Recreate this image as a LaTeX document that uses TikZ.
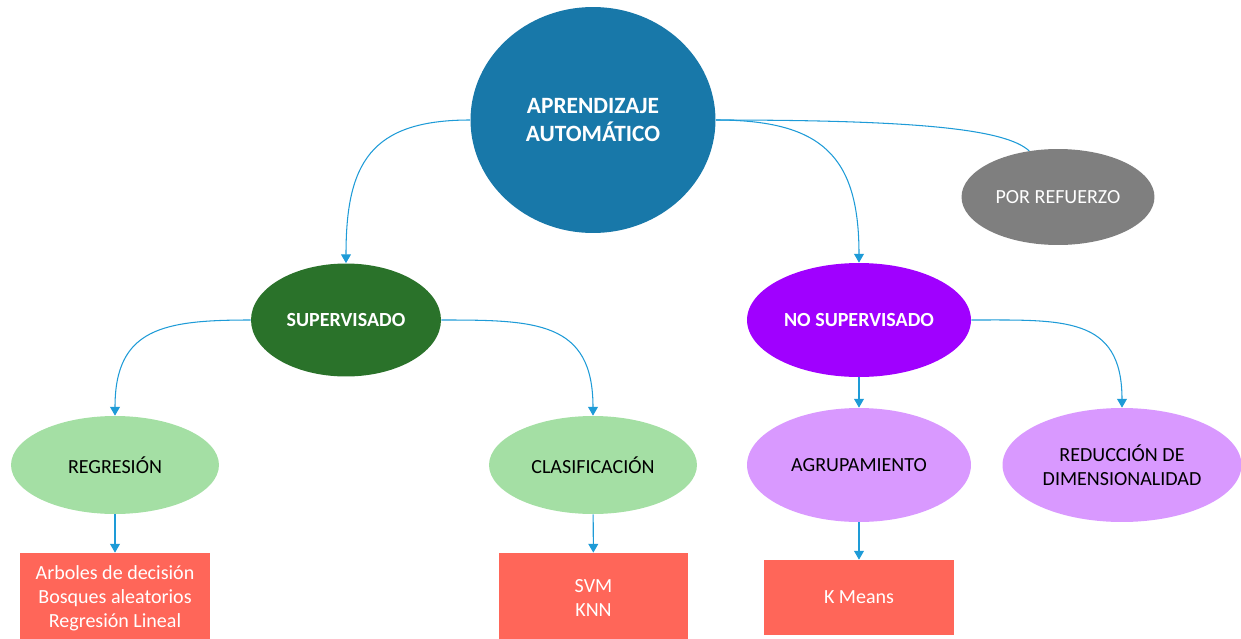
\documentclass[tikz,border=0pt]{standalone}
\usepackage{fontspec}
\setmainfont{Carlito}
\usetikzlibrary{positioning, arrows.meta, shapes.geometric}
\definecolor{mainblue}{HTML}{1878A9}
\definecolor{supgreen}{HTML}{2A722A}
\definecolor{nosuppurple}{HTML}{A000FF}
\definecolor{refgray}{HTML}{7F7F7F}
\definecolor{leafgreen}{HTML}{A4DFA4}
\definecolor{leaflilac}{HTML}{D999FF}
\definecolor{algred}{HTML}{FF6659}
\definecolor{linkblue}{HTML}{1E9BD7}

\begin{document}
\begin{tikzpicture}[x=0.02cm, y=-0.02cm]
		\tikzstyle{oval} = [shape=ellipse, inner sep=0, text centered, align=center, font=\fontsize{11.4}{13.7}\selectfont]
		\tikzstyle{bigoval} = [oval, fill=mainblue, text=white, minimum width=4.9cm, minimum height=4.52cm, font=\fontsize{13.3}{15.9}\selectfont\bfseries]
		\tikzstyle{typeoval} = [oval, text=white, font=\fontsize{11.4}{13.7}\selectfont\bfseries]
		\tikzstyle{leafoval} = [oval, text=black, minimum height=1.96cm]
		\tikzstyle{algbox} = [shape=rectangle, fill=algred, text=white, inner sep=0, minimum width=3.8cm, align=center, font=\fontsize{11.4}{13.7}\selectfont]
		\tikzstyle{link} = [draw=linkblue, line width=0.6pt]
		\tikzstyle{arrow} = [link, -{Triangle[width=5.6pt,length=5pt,color=linkblue]}]
		\useasboundingbox (0,0) rectangle (1241,639);
		\node [bigoval] (v1) at (593,120) {APRENDIZAJE\\AUTOMÁTICO};
		\node [typeoval, fill=supgreen, minimum width=3.8cm, minimum height=2.26cm] (v2) at (346,320) {SUPERVISADO};
		\node [typeoval, fill=nosuppurple, minimum width=4.48cm, minimum height=2.28cm] (v3) at (859,320) {NO SUPERVISADO};
		\node [oval, fill=refgray, text=white, minimum width=3.86cm, minimum height=1.92cm] (v4) at (1058,197) {POR REFUERZO};
		\node [leafoval, fill=leafgreen, minimum width=4.16cm] (v5) at (115,465) {REGRESIÓN};
		\node [leafoval, fill=leafgreen, minimum width=4.16cm] (v6) at (593,465) {CLASIFICACIÓN};
		\node [leafoval, fill=leaflilac, minimum width=4.48cm, minimum height=2.28cm] (v7) at (859,465) {AGRUPAMIENTO};
		\node [leafoval, fill=leaflilac, minimum width=4.78cm, minimum height=2.28cm] (v8) at (1122,465) {REDUCCIÓN DE\\DIMENSIONALIDAD};
		\node [algbox, minimum height=1.8cm] (v9) at (115,598) {Arboles de decisión\\Bosques aleatorios\\Regresión Lineal};
		\node [algbox, minimum height=1.8cm] (v10) at (593.5,598) {SVM\\KNN};
		\node [algbox, minimum height=1.5cm] (v11) at (859,597.5) {K Means};
		\draw [arrow] (v1.west) to[out=180,in=90,looseness=1.35] (v2.north);
		\draw [arrow] (v1.east) to[out=0,in=90,looseness=1.35] (v3.north);
		\draw [link] (v1.east) .. controls +(200,0) and +(-24,-22) .. (v4.122);
		\draw [arrow] (v2.west) to[out=180,in=90,looseness=1.35] (v5.north);
		\draw [arrow] (v2.east) to[out=0,in=90,looseness=1.35] (v6.north);
		\draw [arrow] (v3) -- (v7);
		\draw [arrow] (v3.east) to[out=0,in=90,looseness=1.35] (v8.north);
		\draw [arrow] (v5) -- (v9);
		\draw [arrow] (v6) -- (v10);
		\draw [arrow] (v7) -- (v11);
\end{tikzpicture}
\end{document}
